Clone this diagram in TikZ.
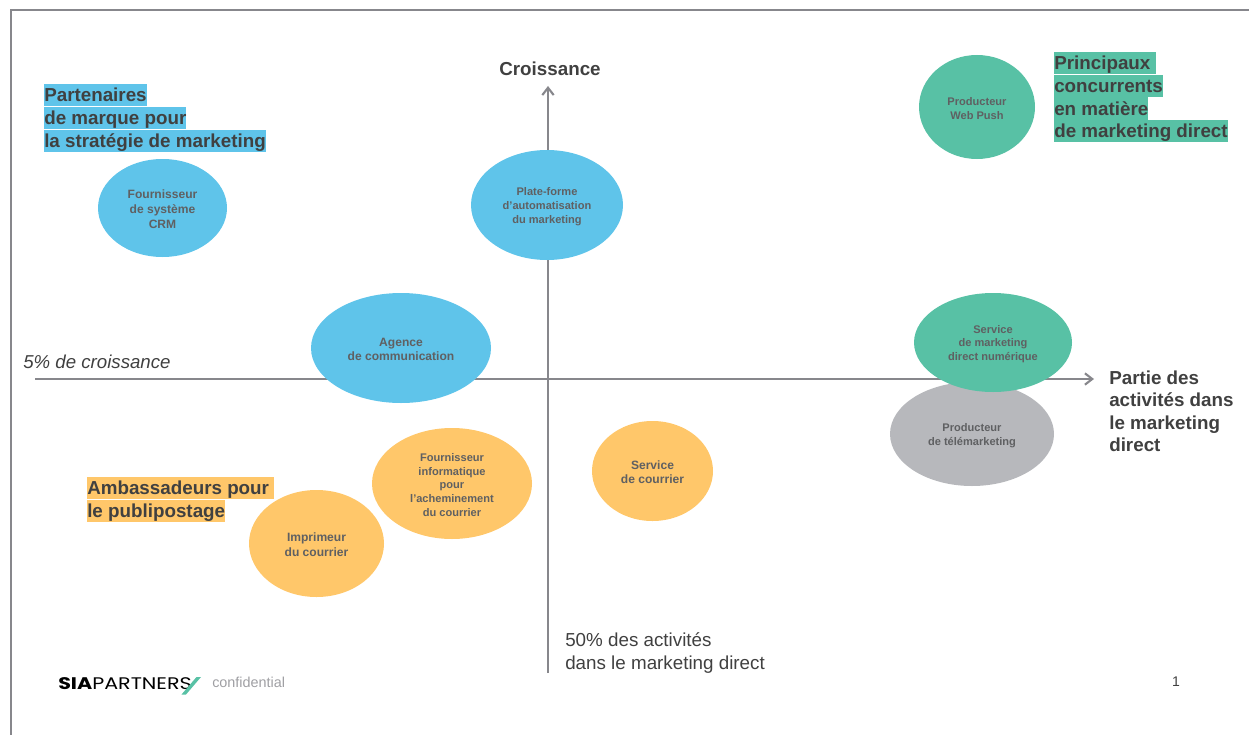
\documentclass[tikz,border=0pt]{standalone}
\usepackage{fontspec}
\setmainfont{Liberation Sans}
\newfontfamily\logofont{Poppins}
\usetikzlibrary{shapes.geometric,arrows.meta}
\definecolor{cblue}{HTML}{5FC4EA}
\definecolor{cgreen}{HTML}{58C1A5}
\definecolor{corange}{HTML}{FFC76A}
\definecolor{cgrey}{HTML}{B7B8BC}
\definecolor{ctext}{HTML}{404040}
\definecolor{cblob}{HTML}{5F6062}
\definecolor{caxis}{HTML}{87878C}
\newcommand{\uppad}{\rule{0pt}{8.2pt}}
\tikzset{
  x=0.75pt,y=-0.75pt,
  blob/.style={ellipse,inner sep=0pt,align=center,text=cblob,font=\bfseries\fontsize{8.3pt}{10.3pt}\selectfont},
  blobbig/.style={blob,font=\bfseries\fontsize{9.05pt}{11.1pt}\selectfont},
  band/.style={anchor=west,inner xsep=0pt,inner ysep=0pt,text=ctext,font=\bfseries\fontsize{14.1pt}{17.25pt}\selectfont,text height=13.2pt,text depth=3.3pt},
  heading/.style={align=left,anchor=north west,inner sep=0pt,text=ctext,font=\bfseries\fontsize{14.1pt}{16.9pt}\selectfont},
  axisline/.style={draw=caxis,line width=1.7pt,-{Straight Barb[length=5.5pt,width=8.5pt,line width=1.6pt]}},
  frameline/.style={draw=caxis,line width=1pt},
}
\begin{document}
\begin{tikzpicture}
\useasboundingbox (0,0) rectangle (1249,735);
% frame
\coordinate (fa) at (11,735);
\coordinate (fb) at (11,10);
\coordinate (fc) at (1249,10);
\draw[frameline] (fa) -- (fb) -- (fc);
% axes
\coordinate (xs) at (35,379);
\coordinate (xe) at (1094,379);
\coordinate (ys) at (548,673);
\coordinate (ye) at (548,86);
\draw[axisline] (xs) -- (xe);
\draw[axisline] (ys) -- (ye);
% ellipses
\node[blobbig,fill=cblue,minimum width=96.75pt,minimum height=73.5pt] (crm) at (162.5,208) {\uppad Fournisseur\\de système\\CRM};
\node[blob,fill=cblue,minimum width=114pt,minimum height=82.5pt] (plate) at (547,205) {\uppad Plate-forme\\d’automatisation\\du marketing};
\node[blobbig,fill=cblue,minimum width=135pt,minimum height=82.5pt] (agence) at (401,348) {\uppad Agence\\de communication};
\node[blob,fill=cgreen,minimum width=87pt,minimum height=78pt] (web) at (977,107) {\uppad Producteur\\Web Push};
\node[blob,fill=cgrey,minimum width=123pt,minimum height=78pt] (tele) at (972,434) {\uppad Producteur\\de télémarketing};
\node[blob,fill=cgreen,minimum width=118.5pt,minimum height=74.25pt] (num) at (993,342.5) {\uppad Service\\de marketing\\direct numérique};
\node[blobbig,fill=corange,minimum width=101.25pt,minimum height=80.25pt] (impr) at (316.5,543.5) {\uppad Imprimeur\\du courrier};
\node[blob,fill=corange,minimum width=120pt,minimum height=83.25pt] (info) at (452,483.5) {\uppad Fournisseur\\informatique\\pour\\l’acheminement\\du courrier};
\node[blobbig,fill=corange,minimum width=90.75pt,minimum height=75pt] (cour) at (652.5,471) {\uppad Service\\de courrier};
% highlighted headings
\node[band,fill=cblue] (p1) at (44,95) {Partenaires};
\node[band,fill=cblue] (p2) at (44,118) {de marque pour};
\node[band,fill=cblue] (p3) at (44,140.5) {la stratégie de marketing};
\node[band,fill=cgreen] (c1) at (1054,63) {Principaux\kern4pt};
\node[band,fill=cgreen] (c2) at (1054,86) {concurrents};
\node[band,fill=cgreen] (c3) at (1054,108.5) {en matière};
\node[band,fill=cgreen] (c4) at (1054,131) {de marketing direct};
\node[band,fill=corange] (a1) at (87,488) {Ambassadeurs pour\kern4pt};
\node[band,fill=corange] (a2) at (87,511) {le publipostage};
% axis labels
\node[heading,anchor=north] (ylab) at (550,62) {Croissance};
\node[heading] (xlab) at (1109,370.5) {Partie des\\activités dans\\le marketing\\direct};
\node[anchor=west,inner sep=0pt,text=ctext,font=\itshape\fontsize{14pt}{17pt}\selectfont] (five) at (23,362) {5\% de croissance};
\node[anchor=north west,align=left,inner sep=0pt,text=ctext,font=\fontsize{14.1pt}{17.25pt}\selectfont] (fifty) at (565,632) {50\% des activités\\dans le marketing direct};
% footer
\node[anchor=west,inner sep=0pt,text=black,font=\logofont\fontsize{12.6pt}{14pt}\selectfont] (logo) at (58,684) {\scalebox{1.23}[1]{\textbf{SIA}PARTNERS}};
\fill[cgreen] (181.5,694.5) -- (186,694.5) -- (201,677) -- (196.5,677) -- cycle;
\node[anchor=west,inner sep=0pt,text=caxis!80!white,font=\fontsize{10.8pt}{13pt}\selectfont] (conf) at (212,682) {confidential};
\node[inner sep=0pt,text=ctext,font=\fontsize{10.5pt}{13pt}\selectfont] (page) at (1176,682) {1};
\end{tikzpicture}
\end{document}
